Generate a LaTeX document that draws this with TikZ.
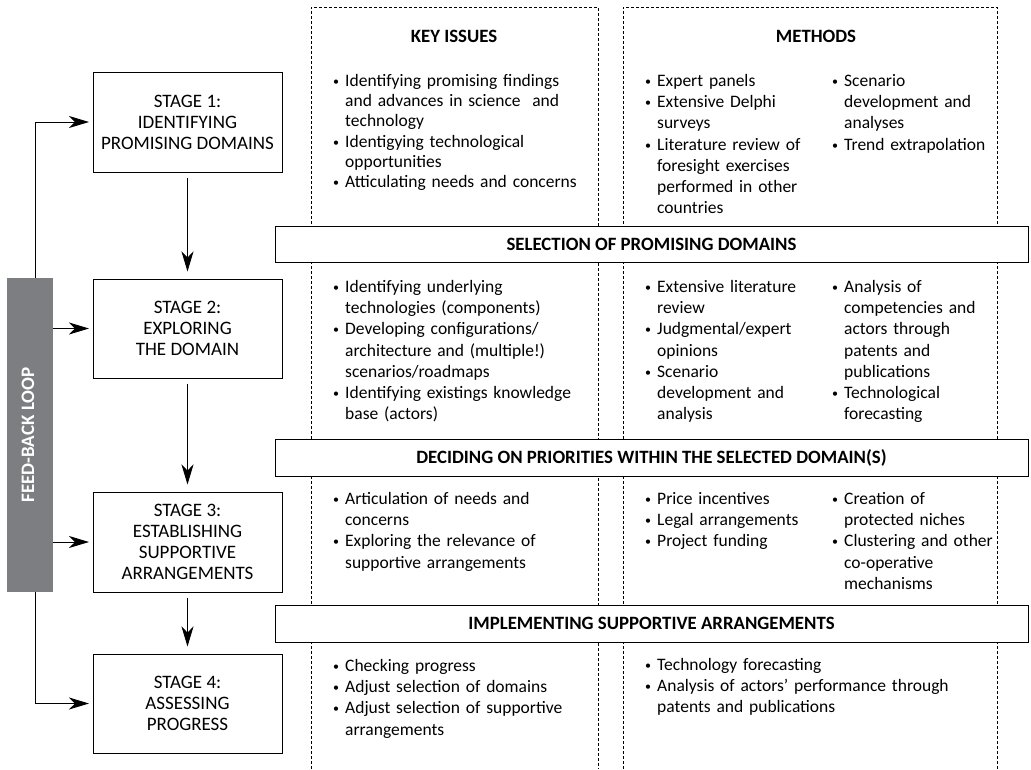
\documentclass[tikz,border=0pt]{standalone}
\usepackage{fontspec}
\setmainfont{Carlito}
\usetikzlibrary{positioning,calc,arrows.meta}
\tikzset{>={Stealth[length=20pt,width=12pt,inset=6pt]}}
\definecolor{loopgray}{RGB}{125,126,130}
\newcommand{\cellfont}{\fontsize{17.5}{21.2}\selectfont}
\newcommand{\tightcellfont}{\fontsize{17.5}{20.2}\selectfont}
\newcommand{\stagefont}{\fontsize{19}{21}\selectfont}
\newcommand{\bannerfont}{\bfseries\fontsize{18.8}{20}\selectfont}
\newcommand{\loopfont}{\bfseries\fontsize{19}{20}\selectfont}
\newcommand{\dotmark}{\raisebox{1pt}{\fontsize{12}{12}\selectfont\textbullet}}
\newenvironment{blist}{\begin{list}{\dotmark}{\setlength\leftmargin{13pt}\setlength\labelsep{6pt}%
  \setlength\labelwidth{7pt}\setlength\itemsep{0pt}\setlength\parsep{0pt}%
  \setlength\topsep{0pt}\setlength\partopsep{0pt}}}{\end{list}}

\begin{document}
\begin{tikzpicture}[x=1pt,y=-1pt,
  stagebox/.style={draw,line width=1pt,minimum width=189pt,align=center,font=\stagefont,inner sep=0pt},
  banner/.style={draw,fill=white,line width=1pt,minimum width=753pt,minimum height=36pt,font=\bannerfont,inner sep=0pt},
  colline/.style={densely dashed,line width=0.6pt},
  colhead/.style={font=\bannerfont},
  cell/.style={anchor=north west,inner sep=0pt,align=left,font=\cellfont},
  flow/.style={->,line width=0.9pt,shorten <=5pt,shorten >=7pt},
  loopline/.style={->,line width=0.9pt,shorten >=3.5pt}]
\useasboundingbox (0,0) rectangle (1031,769);

% stages
\node[stagebox,minimum height=100pt] (s1) at (187.5,122) {STAGE 1:\\IDENTIFYING\\PROMISING DOMAINS};
\node[stagebox,minimum height=99pt] (s2) at (187.5,328.5) {STAGE 2:\\EXPLORING\\THE DOMAIN};
\node[stagebox,minimum height=100pt] (s3) at (187.5,542) {STAGE 3:\\ESTABLISHING\\SUPPORTIVE\\ARRANGEMENTS};
\node[stagebox,minimum height=99pt] (s4) at (187.5,703.5) {STAGE 4:\\ASSESSING\\PROGRESS};
\draw[flow] (s1) -- (s2);
\draw[flow] (s2) -- (s3);
\draw[flow] (s3) -- (s4);

% feed-back loop
\node[fill=loopgray,minimum width=46pt,minimum height=314pt,inner sep=0pt] (fb) at (30,435) {};
\node[rotate=90,text=white,font=\loopfont] (fblabel) at ([xshift=-2pt]fb.center) {FEED-BACK LOOP};
\draw[loopline] ([xshift=5pt]fb.north) |- (s1.west);
\draw[loopline] (fb.east |- s2.west) -- (s2.west);
\draw[loopline] (fb.east |- s3.west) -- (s3.west);
\draw[loopline] ([xshift=5pt]fb.south) |- (s4.west);

% dashed columns
\draw[colline] (311,769) -- (311,7) -- (598,7) -- (598,769);
\draw[colline] (623,769) -- (623,7) -- (997,7) -- (997,769);
\node[colhead] (keyhead) at (454,36) {KEY ISSUES};
\node[colhead] (methhead) at (816,36) {METHODS};

% banners
\node[banner] (b1) at (651.5,244) {SELECTION OF PROMISING DOMAINS};
\node[banner,minimum height=37pt] (b2) at (651.5,457.5) {DECIDING ON PRIORITIES WITHIN THE SELECTED DOMAIN(S)};
\node[banner,minimum height=37pt] (b3) at (651.5,623.5) {IMPLEMENTING SUPPORTIVE ARRANGEMENTS};

% row 1
\node[cell,font=\tightcellfont,text width=265pt] (k1) at (332,66) {\begin{blist}
\item Identifying promising findings\newline and advances in science~ and\newline technology
\item Identigying technological\newline opportunities
\item Atticulating needs and concerns
\end{blist}};
\node[cell,text width=185pt] (m1a) at (644,65) {\begin{blist}
\item Expert panels
\item Extensive Delphi\newline surveys
\item Literature review of\newline foresight exercises\newline performed in other\newline countries
\end{blist}};
\node[cell,text width=165pt] (m1b) at (831,65) {\begin{blist}
\item Scenario\newline development and\newline analyses
\item Trend extrapolation
\end{blist}};

% row 2
\node[cell,text width=265pt] (k2) at (332,271) {\begin{blist}
\item Identifying underlying\newline technologies (components)
\item Developing configurations/\newline architecture and (multiple!)\newline scenarios/roadmaps
\item Identifying existings knowledge\newline base (actors)
\end{blist}};
\node[cell,text width=185pt] (m2a) at (644,271) {\begin{blist}
\item Extensive literature\newline review
\item Judgmental/expert\newline opinions
\item Scenario\newline development and\newline analysis
\end{blist}};
\node[cell,text width=165pt] (m2b) at (831,271) {\begin{blist}
\item Analysis of\newline competencies and\newline actors through\newline patents and\newline publications
\item Technological\newline forecasting
\end{blist}};

% row 3
\node[cell,text width=265pt] (k3) at (332,483) {\begin{blist}
\item Articulation of needs and\newline concerns
\item Exploring the relevance of\newline supportive arrangements
\end{blist}};
\node[cell,text width=185pt] (m3a) at (644,483) {\begin{blist}
\item Price incentives
\item Legal arrangements
\item Project funding
\end{blist}};
\node[cell,text width=165pt] (m3b) at (831,483) {\begin{blist}
\item Creation of\newline protected niches
\item Clustering and other\newline co-operative\newline mechanisms
\end{blist}};

% row 4
\node[cell,text width=265pt] (k4) at (332,650) {\begin{blist}
\item Checking progress
\item Adjust selection of domains
\item Adjust selection of supportive\newline arrangements
\end{blist}};
\node[cell,text width=345pt] (m4) at (644,649) {\begin{blist}
\item Technology forecasting
\item Analysis of actors' performance through\newline patents and publications
\end{blist}};
\end{tikzpicture}
\end{document}
